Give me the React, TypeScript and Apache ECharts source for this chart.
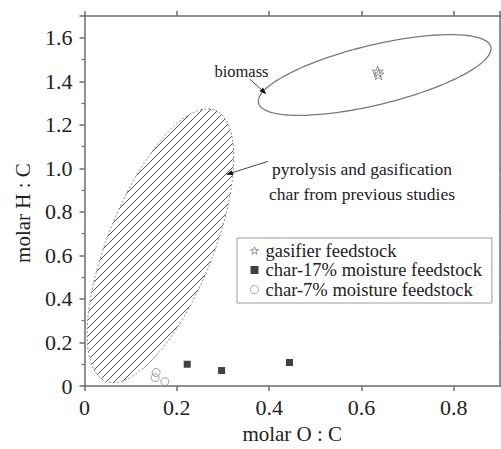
import React, { useEffect, useRef } from 'react';
import * as echarts from 'echarts';

const FONT = 'Liberation Serif';

// data (molar O:C, molar H:C)
const gasifierFeedstock = [
  [0.635, 1.445],
  [0.637, 1.432],
];
const char17Moisture = [
  [0.2225, 0.1],
  [0.297, 0.071],
  [0.444, 0.108],
];
const char7Moisture = [
  [0.155, 0.062],
  [0.153, 0.038],
  [0.174, 0.02],
];
// ellipses: tip A (x, y), tip B (x, y), minor/major ratio
const biomassEllipse = [0.377, 1.3, 0.88, 1.558, 0.25];
const charEllipse = [0.046, 0.022, 0.283, 1.267, 0.36];

// annotations
const biomassLabel = { text: 'biomass', at: [0.34, 1.443] };
const biomassArrow = [
  [0.358, 1.41],
  [0.394, 1.341],
];
const charLabelLines = ['pyrolysis and gasification', 'char from previous studies'];
const charLabelAt = [[0.601, 0.998], [0.601, 0.88]];
const charArrow = [
  [0.397, 1.032],
  [0.3066, 0.971],
];

const seriesNames = ['gasifier feedstock', 'char-17% moisture feedstock', 'char-7% moisture feedstock'];

const STAR = 'path://M50,0 L61,35 L98,35 L68,57 L79,91 L50,70 L21,91 L32,57 L2,35 L39,35 Z';

function makeHatch(): HTMLCanvasElement {
  const s = 7.5;
  const c = document.createElement('canvas');
  c.width = 8;
  c.height = 8;
  const ctx = c.getContext('2d')!;
  const n = 8;
  ctx.strokeStyle = '#333';
  ctx.lineWidth = 0.85;
  ctx.beginPath();
  ctx.moveTo(-1, n + 1);
  ctx.lineTo(n + 1, -1);
  ctx.moveTo(-1, 1);
  ctx.lineTo(1, -1);
  ctx.moveTo(n - 1, n + 1);
  ctx.lineTo(n + 1, n - 1);
  ctx.stroke();
  void s;
  return c;
}

function ellipseRenderer(style: any) {
  return (params: any, api: any) => {
    const p1 = api.coord([api.value(0), api.value(1)]);
    const p2 = api.coord([api.value(2), api.value(3)]);
    const ratio = api.value(4);
    const cx = (p1[0] + p2[0]) / 2;
    const cy = (p1[1] + p2[1]) / 2;
    const dx = p2[0] - p1[0];
    const dy = p2[1] - p1[1];
    const a = Math.hypot(dx, dy) / 2;
    const b = a * ratio;
    const ux = dx / (2 * a);
    const uy = dy / (2 * a);
    const vx = -uy;
    const vy = ux;
    const pts: number[][] = [];
    const n = 160;
    for (let i = 0; i < n; i++) {
      const t = (2 * Math.PI * i) / n;
      pts.push([cx + a * Math.cos(t) * ux + b * Math.sin(t) * vx, cy + a * Math.cos(t) * uy + b * Math.sin(t) * vy]);
    }
    return { type: 'polygon', shape: { points: pts }, style };
  };
}

const axisColor = '#6c6c6c';

export default function App() {
  const ref = useRef<HTMLDivElement>(null);
  useEffect(() => {
    if (!ref.current) return;
    const chart = echarts.init(ref.current, undefined, { renderer: 'svg' });
    const hatch = makeHatch();
    const lineAxis = { show: true, onZero: false, lineStyle: { color: axisColor, width: 1.5 } };
    const tick = { show: true, inside: false, length: 5, lineStyle: { color: axisColor, width: 1.5 } };
    const fmt = (v: number) => (v === 0 ? '0' : v.toFixed(1));
    const option: any = {
      animation: false,
      backgroundColor: '#fff',
      textStyle: { fontFamily: FONT },
      grid: { left: 84.5, right: 1, top: 16, bottom: 58 },
      xAxis: [
        {
          type: 'value',
          min: 0,
          max: 0.9,
          interval: 0.2,
          position: 'bottom',
          axisLine: lineAxis,
          axisTick: tick,
          splitLine: { show: false },
          axisLabel: { showMaxLabel: false, margin: 10, fontSize: 22, fontFamily: FONT, color: '#222', formatter: fmt },
          name: 'molar O : C',
          nameLocation: 'middle',
          nameGap: 37,
          nameTextStyle: { fontSize: 21, fontFamily: FONT, color: '#222' },
        },
        {
          type: 'value',
          min: 0,
          max: 0.9,
          interval: 0.2,
          position: 'top',
          axisLine: lineAxis,
          axisTick: tick,
          splitLine: { show: false },
          axisLabel: { show: false },
        },
      ],
      yAxis: [
        {
          type: 'value',
          min: 0,
          max: 1.7,
          interval: 0.2,
          position: 'left',
          axisLine: lineAxis,
          axisTick: tick,
          minorTick: { show: true, splitNumber: 2, length: 3, lineStyle: { color: axisColor, width: 1.2 } },
          splitLine: { show: false },
          minorSplitLine: { show: false },
          axisLabel: { showMaxLabel: false, margin: 12, fontSize: 22, fontFamily: FONT, color: '#222', formatter: fmt },
        },
        {
          type: 'value',
          min: 0,
          max: 1.7,
          interval: 0.2,
          position: 'right',
          axisLine: lineAxis,
          axisTick: tick,
          splitLine: { show: false },
          axisLabel: { show: false },
        },
      ],
      legend: {
        data: [
          { name: seriesNames[0], icon: STAR, itemStyle: { color: 'rgba(255,255,255,0)', borderColor: '#777', borderWidth: 1 } },
          { name: seriesNames[1], icon: 'rect', itemStyle: { color: '#111', borderWidth: 0 } },
          { name: seriesNames[2], icon: 'circle', itemStyle: { color: 'rgba(255,255,255,0)', borderColor: '#888', borderWidth: 1 } },
        ],
        orient: 'vertical',
        left: 237,
        top: 238,
        padding: [3, 10, 4, 13],
        itemGap: 0.5,
        itemWidth: 8,
        itemHeight: 8,
        borderColor: '#9a9a9a',
        borderWidth: 1,
        backgroundColor: '#fff',
        textStyle: { fontSize: 18.5, fontFamily: FONT, color: '#222', padding: [0, 0, 0, 2] },
        selectedMode: false,
      },
      series: [
        {
          type: 'custom',
          name: 'charRegion',
          data: [charEllipse],
          renderItem: ellipseRenderer({
            fill: { image: hatch, repeat: 'repeat', imageWidth: 8, imageHeight: 8 },
            stroke: '#8a8a8a',
            lineWidth: 1,
            lineDash: [2, 2],
          }),
          silent: true,
          clip: false,
          z: 1,
        },
        {
          type: 'custom',
          name: 'biomassRegion',
          data: [biomassEllipse],
          renderItem: ellipseRenderer({ fill: 'none', stroke: '#7a7a7a', lineWidth: 1.3 }),
          silent: true,
          clip: false,
          z: 1,
        },
        {
          name: seriesNames[0],
          type: 'scatter',
          data: gasifierFeedstock,
          symbol: STAR,
          symbolSize: 11,
          itemStyle: { color: 'rgba(255,255,255,0)', borderColor: '#777', borderWidth: 1 },
          z: 5,
        },
        {
          name: seriesNames[1],
          type: 'scatter',
          data: char17Moisture,
          symbol: 'rect',
          symbolSize: 7,
          itemStyle: { color: '#111' },
          z: 5,
        },
        {
          name: seriesNames[2],
          type: 'scatter',
          data: char7Moisture,
          symbol: 'circle',
          symbolSize: 8,
          itemStyle: { color: 'rgba(255,255,255,0)', borderColor: '#888', borderWidth: 1 },
          z: 5,
        },
      ],
    };
    chart.setOption(option);

    const px = (p: number[]) => chart.convertToPixel({ xAxisIndex: 0, yAxisIndex: 0 }, p) as number[];
    const arrow = (pts: number[][]) => {
      const s = px(pts[0]);
      const t = px(pts[1]);
      const L = Math.hypot(t[0] - s[0], t[1] - s[1]);
      const ux = (t[0] - s[0]) / L;
      const uy = (t[1] - s[1]) / L;
      const bx = t[0] - 7 * ux;
      const by = t[1] - 7 * uy;
      const nx = -uy;
      const ny = ux;
      return [
        { type: 'line', shape: { x1: s[0], y1: s[1], x2: bx, y2: by }, style: { stroke: '#444', lineWidth: 1 }, z: 10 },
        {
          type: 'polygon',
          shape: { points: [t, [bx + 2.5 * nx, by + 2.5 * ny], [bx - 2.5 * nx, by - 2.5 * ny]] },
          style: { fill: '#111' },
          z: 10,
        },
      ];
    };
    const textEl = (text: string, at: number[], size: number) => {
      const p = px(at);
      return {
        type: 'text',
        x: p[0],
        y: p[1],
        style: { text, fontSize: size, fontFamily: FONT, fill: '#222', align: 'center', verticalAlign: 'middle' },
        z: 10,
      };
    };
    const graphic: any[] = [
      {
        type: 'text',
        x: 23,
        y: 213,
        rotation: Math.PI / 2,
        style: { text: 'molar H : C', fontSize: 21, fontFamily: FONT, fill: '#222', align: 'center', verticalAlign: 'middle' },
      },
      textEl(biomassLabel.text, biomassLabel.at, 16.5),
      ...arrow(biomassArrow),
      textEl(charLabelLines[0], charLabelAt[0], 17.5),
      textEl(charLabelLines[1], charLabelAt[1], 17.5),
      ...arrow(charArrow),
    ];
    chart.setOption({ graphic });

    return () => chart.dispose();
  }, []);
  return <div ref={ref} style={{ position: 'absolute', left: 0, top: 0, width: 501, height: 449 }} />;
}
